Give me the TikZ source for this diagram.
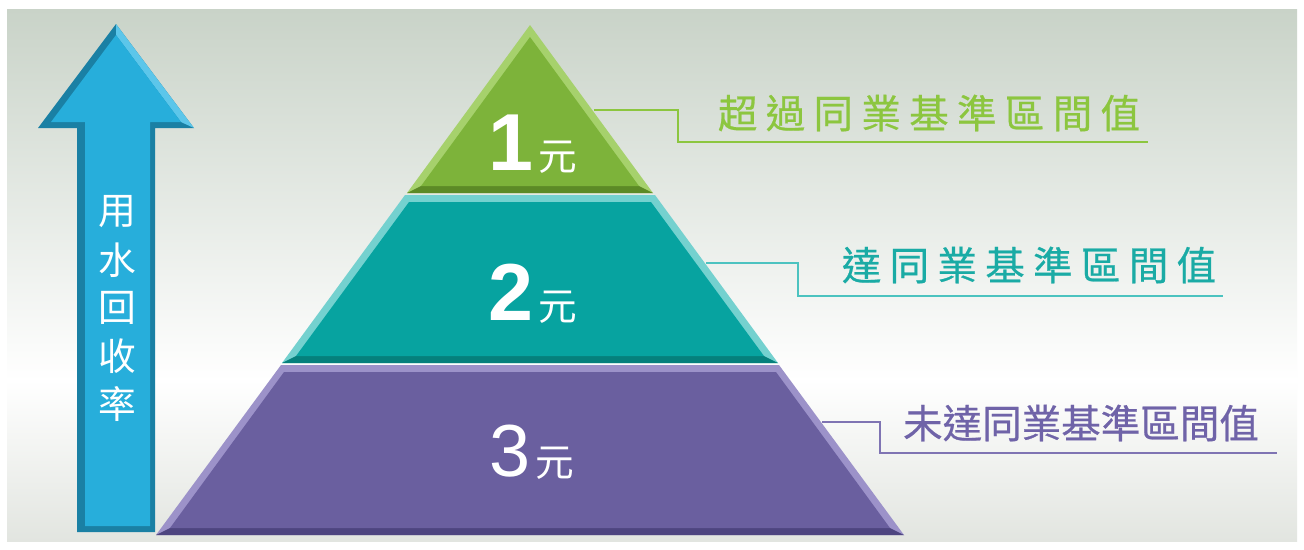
\documentclass[tikz,border=0pt]{standalone}
\usepackage{fontspec}
\setmainfont{Liberation Sans}
\newfontfamily\cjk{Noto Sans CJK TC}
\newfontfamily\cjklabel[FakeBold=0.6]{Noto Sans CJK TC}
\newfontfamily\cjkwide[LetterSpace=21,FakeBold=0.6]{Noto Sans CJK TC}
\usetikzlibrary{calc}
\definecolor{bgtop}{HTML}{C9D3C8}
\definecolor{bgbot}{HTML}{E2E5E0}
\definecolor{arrowmain}{HTML}{27AEDB}
\definecolor{arrowdark}{HTML}{1A80A4}
\definecolor{arrowlight}{HTML}{5CC6EA}
\definecolor{greenmain}{HTML}{7DB33A}
\definecolor{greenlight}{HTML}{A6D16C}
\definecolor{greendark}{HTML}{5C8A26}
\definecolor{tealmain}{HTML}{07A3A0}
\definecolor{teallight}{HTML}{74D1CF}
\definecolor{tealdark}{HTML}{05807C}
\definecolor{purplemain}{HTML}{6A5F9F}
\definecolor{purplelight}{HTML}{9C92C9}
\definecolor{purpledark}{HTML}{4E4580}
\definecolor{greentext}{HTML}{8CC63F}
\definecolor{tealtext}{HTML}{1AABA5}
\definecolor{tealline}{HTML}{4CC3C0}
\definecolor{purpletext}{HTML}{6F63A8}
\definecolor{purpleline}{HTML}{7F74B3}
\newcommand{\yuan}{{\mdseries\cjk\fontsize{22}{24}\selectfont 元}}

\begin{document}
\begin{tikzpicture}[x=0.02cm,y=-0.02cm,
  arrowtext/.style={text=white,inner sep=0pt,font=\cjk\fontsize{21.5}{24}\selectfont},
  tiertext/.style={text=white,inner sep=0pt,anchor=base},
  label/.style={inner sep=0pt,font=\fontsize{22.5}{26}\selectfont},
  lead/.style={line width=1.1pt}]
\useasboundingbox (0,0) rectangle (1304,549);
% background
\fill[white] (0,0) rectangle (1304,549);
\shade[top color=bgtop,bottom color=white] (7,9) rectangle (1297,381);
\shade[top color=white,bottom color=bgbot] (7,380) rectangle (1297,541);

% arrow
\fill[arrowdark] (116,24) -- (194,128) -- (155,128) -- (155,532) -- (77,532) -- (77,128) -- (38,128) -- cycle;
\fill[arrowlight] (116,24) -- (194,128) -- (181,122) -- (116,35) -- cycle;
\fill[arrowmain] (116,35) -- (181,122) -- (150,122) -- (150,526) -- (85,526) -- (85,122) -- (51,122) -- cycle;
\foreach \c [count=\i from 0] in {用,水,回,收,率}
  \node[arrowtext] (w\i) at (117,{212+48*\i}) {\c};

% pyramid, top tier
\fill[greenlight] (530,25) -- (653,193) -- (407,193) -- cycle;
\fill[greendark] (407,193) -- (653,193) -- (639,186) -- (421,186) -- cycle;
\fill[greenmain] (530,37) -- (639,186) -- (421,186) -- cycle;
% middle tier
\fill[teallight] (405,195) -- (655,195) -- (778,363) -- (282,363) -- cycle;
\fill[tealdark] (282,363) -- (778,363) -- (764,356) -- (296,356) -- cycle;
\fill[tealmain] (409,202) -- (651,202) -- (764,356) -- (296,356) -- cycle;
% bottom tier
\fill[purplelight] (281,365) -- (779,365) -- (904,535) -- (156,535) -- cycle;
\fill[purpledark] (156,535) -- (904,535) -- (890,528) -- (170,528) -- cycle;
\fill[purplemain] (284,372) -- (776,372) -- (890,528) -- (170,528) -- cycle;

\node[tiertext] (n1) at (533,170) {\fontsize{46}{50}\selectfont\bfseries 1\kern3pt\yuan};
\node[tiertext] (n2) at (533,320) {\fontsize{46}{50}\selectfont\bfseries 2\kern3pt\yuan};
\node[tiertext] (n3) at (532,476) {\fontsize{42}{46}\selectfont 3\kern3pt\yuan};

% labels
\node[label,text=greentext] (t1) at (929,113) {\cjkwide 超過同業基準區間值};
\node[label,text=tealtext] (t2) at (1029,265) {\cjkwide 達同業基準區間值};
\node[label,text=purpletext] (t3) at (1081,423) {\cjklabel 未達同業基準區間值};

\coordinate (e1) at (594,110);
\coordinate (k1) at (678,142);
\coordinate (u1) at (1148,142);
\coordinate (e2) at (706,263);
\coordinate (k2) at (798,296);
\coordinate (u2) at (1223,296);
\coordinate (e3) at (822,422);
\coordinate (k3) at (880,453);
\coordinate (u3) at (1277,453);
\draw[lead,greentext] (e1) -| (k1) -- (u1);
\draw[lead,tealline] (e2) -| (k2) -- (u2);
\draw[lead,purpleline] (e3) -| (k3) -- (u3);
\end{tikzpicture}
\end{document}
